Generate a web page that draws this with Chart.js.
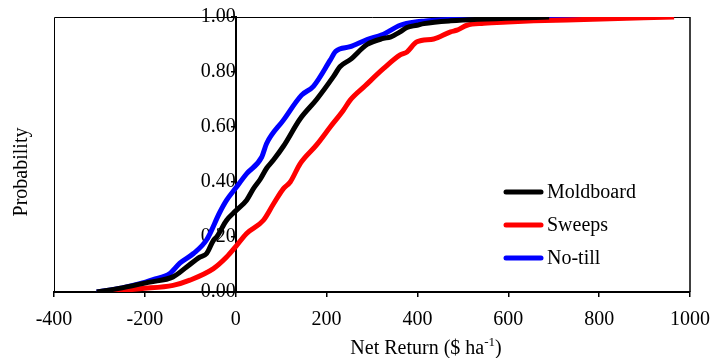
<!DOCTYPE html>
<html>
<head>
<meta charset="utf-8">
<script src="https://cdn.jsdelivr.net/npm/chart.js@4/dist/chart.umd.min.js"></script>
<style>
  html, body { margin: 0; padding: 0; background: #ffffff; }
  #wrap { width: 713px; height: 358px; }
</style>
</head>
<body>
<div id="wrap"><canvas id="c" width="713" height="358"></canvas></div>
<script>
// Cumulative probability of net return for three tillage systems
const seriesNames = ['Moldboard', 'Sweeps', 'No-till'];
const seriesColors = ['#000000', '#ff0000', '#0000ff'];

const moldboardReturn = [-306, -250, -189, -138, -108, -79, -64, -49, -42, -20, 0, 24, 39, 54, 68, 83, 105, 142, 178, 215, 230, 252, 289, 325, 340, 362, 377, 399, 414, 473, 690];
const moldboardProb   = [0, 0.015, 0.036, 0.055, 0.091, 0.127, 0.14, 0.188, 0.2, 0.261, 0.295, 0.334, 0.376, 0.41, 0.45, 0.48, 0.53, 0.63, 0.70, 0.783, 0.82, 0.845, 0.9, 0.922, 0.927, 0.946, 0.962, 0.97, 0.976, 0.986, 1.0];

const sweepsReturn = [-284, -211, -138, -101, -49, -20, 0, 24, 61, 83, 105, 120, 142, 178, 208, 237, 252, 285, 325, 362, 377, 399, 436, 473, 487, 509, 546, 598, 656, 767, 965];
const sweepsProb   = [0, 0.012, 0.024, 0.043, 0.085, 0.127, 0.165, 0.213, 0.261, 0.32, 0.376, 0.40, 0.467, 0.535, 0.60, 0.661, 0.698, 0.75, 0.812, 0.862, 0.873, 0.91, 0.92, 0.946, 0.952, 0.97, 0.977, 0.982, 0.986, 0.991, 1.0];

const noTillReturn = [-306, -250, -211, -182, -145, -123, -93, -64, -35, -20, 0, 24, 57, 68, 105, 145, 171, 208, 220, 252, 289, 322, 362, 399, 414, 505, 807];
const noTillProb   = [0, 0.015, 0.03, 0.045, 0.067, 0.105, 0.14, 0.19, 0.29, 0.334, 0.378, 0.43, 0.49, 0.54, 0.625, 0.716, 0.748, 0.843, 0.875, 0.892, 0.918, 0.935, 0.97, 0.983, 0.985, 0.994, 1.0];

const xTickValues = [-400, -200, 0, 200, 400, 600, 800, 1000];
const yTickValues = [0, 0.2, 0.4, 0.6, 0.8, 1.0];

const xTitleMain = 'Net Return ($ ha';
const xTitleSup = '-1';
const xTitleEnd = ')';
const yTitle = 'Probability';

const FONT = '"Liberation Serif", "Times New Roman", serif';

function toPoints(xs, ys) {
  return xs.map((x, i) => ({ x: x, y: ys[i] }));
}

const returns = [moldboardReturn, sweepsReturn, noTillReturn];
const probs = [moldboardProb, sweepsProb, noTillProb];

const datasets = seriesNames.map((name, i) => ({
  label: name,
  data: toPoints(returns[i], probs[i]),
  borderColor: seriesColors[i],
  backgroundColor: seriesColors[i],
  borderWidth: 5,
  pointRadius: 0,
  cubicInterpolationMode: 'monotone',
  fill: false,
  clip: 0
}));

// Thin frame around the plot area plus both axis titles and the inset legend
const decorations = {
  id: 'decorations',
  beforeDatasetsDraw(chart) {
    const { ctx, chartArea: a } = chart;
    ctx.save();
    ctx.strokeStyle = '#000000';
    ctx.lineWidth = 1;
    ctx.beginPath();
    ctx.moveTo(a.left + 0.5, a.bottom);
    ctx.lineTo(a.left + 0.5, a.top + 0.5);
    ctx.lineTo(a.right, a.top + 0.5);
    ctx.stroke();
    ctx.lineWidth = 1.5;
    ctx.beginPath();
    ctx.moveTo(a.right, a.top);
    ctx.lineTo(a.right, a.bottom);
    ctx.stroke();
    ctx.restore();
  },
  afterDraw(chart) {
    const { ctx } = chart;
    ctx.save();
    ctx.fillStyle = '#000000';

    // y title
    ctx.font = '20px ' + FONT;
    ctx.textAlign = 'center';
    ctx.textBaseline = 'middle';
    ctx.translate(22, 172);
    ctx.rotate(-Math.PI / 2);
    ctx.fillText(yTitle, 0, 0);
    ctx.setTransform(1, 0, 0, 1, 0, 0);

    // x title with superscript unit
    const mainFont = '20px ' + FONT;
    const supFont = '13px ' + FONT;
    ctx.textAlign = 'left';
    ctx.textBaseline = 'alphabetic';
    ctx.font = mainFont;
    const w1 = ctx.measureText(xTitleMain).width;
    const w3 = ctx.measureText(xTitleEnd).width;
    ctx.font = supFont;
    const w2 = ctx.measureText(xTitleSup).width;
    const total = w1 + w2 + w3;
    let x = 426 - total / 2;
    const base = 354;
    ctx.font = mainFont;
    ctx.fillText(xTitleMain, x, base);
    x += w1;
    ctx.font = supFont;
    ctx.fillText(xTitleSup, x, base - 8);
    x += w2;
    ctx.font = mainFont;
    ctx.fillText(xTitleEnd, x, base);

    // legend
    const rows = [192, 225, 258];
    chart.data.datasets.forEach((ds, i) => {
      const y = rows[i];
      ctx.strokeStyle = ds.borderColor;
      ctx.lineWidth = 5;
      ctx.lineCap = 'round';
      ctx.beginPath();
      ctx.moveTo(506, y);
      ctx.lineTo(541, y);
      ctx.stroke();
      ctx.fillStyle = '#000000';
      ctx.font = '20px ' + FONT;
      ctx.textBaseline = 'middle';
      ctx.textAlign = 'left';
      ctx.fillText(ds.label, 547, y + 1);
    });
    ctx.restore();
  }
};

new Chart(document.getElementById('c'), {
  type: 'line',
  data: { datasets: datasets },
  options: {
    responsive: false,
    animation: false,
    devicePixelRatio: 1,
    layout: { padding: { left: 54, right: 23, top: 17, bottom: 0 } },
    plugins: { legend: { display: false }, tooltip: { enabled: false } },
    scales: {
      x: {
        type: 'linear',
        position: 'bottom',
        min: -400,
        max: 1000,
        afterBuildTicks(scale) { scale.ticks = xTickValues.map(v => ({ value: v })); },
        afterFit(scale) {
          scale.height = 66;
          scale.paddingLeft = 0;
          scale.paddingRight = 0;
        },
        ticks: {
          color: '#000000',
          font: { family: FONT, size: 20 },
          padding: 11,
          maxRotation: 0,
          callback: v => String(v)
        },
        grid: { display: true, drawOnChartArea: false, drawTicks: true, tickLength: 5, color: '#000000', lineWidth: 1.5 },
        border: { display: true, color: '#000000', width: 2 }
      },
      y: {
        type: 'linear',
        position: { x: 0 },
        min: 0,
        max: 1,
        afterBuildTicks(scale) { scale.ticks = yTickValues.map(v => ({ value: v })); },
        afterFit(scale) {
          scale.width = 0;
          scale.paddingTop = 0;
          scale.paddingBottom = 0;
        },
        ticks: {
          color: '#000000',
          font: { family: FONT, size: 20 },
          padding: 16,
          callback: v => Number(v).toFixed(2)
        },
        grid: { display: true, drawOnChartArea: false, drawTicks: true, tickLength: 4, color: '#000000', lineWidth: 1.5 },
        border: { display: true, color: '#000000', width: 2 }
      }
    }
  },
  plugins: [decorations]
});
</script>
</body>
</html>
